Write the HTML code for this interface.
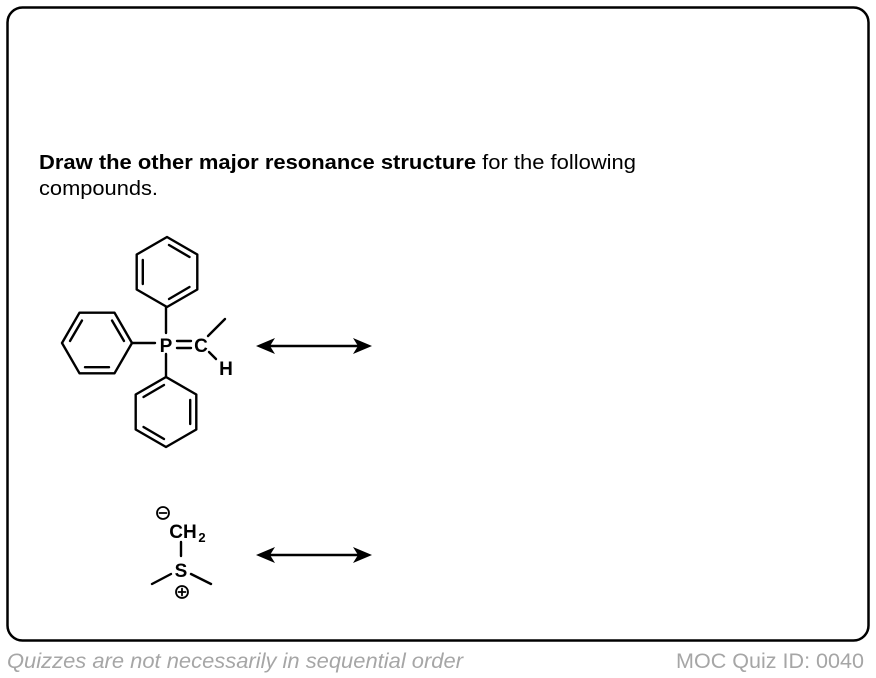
<!DOCTYPE html>
<html><head><style>
body{margin:0;width:876px;height:678px;background:#fff;overflow:hidden;font-family:"Liberation Sans",Arial,sans-serif;}
</style></head><body>
<svg width="876" height="678" viewBox="0 0 876 678" xmlns="http://www.w3.org/2000/svg" style="position:absolute;left:0;top:0">
<rect x="7.5" y="7.5" width="861" height="633" rx="15" fill="none" stroke="#000" stroke-width="2.5"/>
<text x="39" y="169" font-size="20" textLength="597" lengthAdjust="spacingAndGlyphs" font-family="Liberation Sans, Arial, sans-serif"><tspan font-weight="bold">Draw the other major resonance structure</tspan> for the following</text>
<text x="39" y="195" font-size="20" textLength="119" lengthAdjust="spacingAndGlyphs" font-family="Liberation Sans, Arial, sans-serif">compounds.</text>
<text x="7" y="668" font-size="21" font-style="italic" fill="#a6a6a6" textLength="456" lengthAdjust="spacingAndGlyphs" font-family="Liberation Sans, Arial, sans-serif">Quizzes are not necessarily in sequential order</text>
<text x="676" y="668" font-size="21" fill="#a6a6a6" textLength="188" lengthAdjust="spacingAndGlyphs" font-family="Liberation Sans, Arial, sans-serif">MOC Quiz ID: 0040</text>
<g stroke="#000" stroke-width="2.4" fill="none" stroke-linecap="round" stroke-linejoin="round">
<polygon points="167,237 197.3,254.5 197.3,289.5 167,307 136.7,289.5 136.7,254.5"/>
<line x1="142.8" y1="260" x2="142.8" y2="284"/>
<line x1="169" y1="245" x2="189.5" y2="257"/>
<line x1="189.5" y1="287" x2="169" y2="299"/>
<polygon points="62,343 79.5,312.7 114.5,312.7 132,343 114.5,373.3 79.5,373.3"/>
<line x1="112" y1="320.5" x2="124" y2="341"/>
<line x1="85" y1="367.2" x2="109" y2="367.2"/>
<line x1="70" y1="341" x2="82" y2="320.5"/>
<polygon points="166,377 196.3,394.5 196.3,429.5 166,447 135.7,429.5 135.7,394.5"/>
<line x1="190.2" y1="400" x2="190.2" y2="424"/>
<line x1="164" y1="439" x2="143.5" y2="427"/>
<line x1="143.5" y1="397" x2="164" y2="385"/>
<line x1="166" y1="307" x2="166" y2="333"/>
<line x1="132" y1="343" x2="155" y2="343"/>
<line x1="166" y1="354" x2="166" y2="377"/>
<line x1="177" y1="341" x2="191" y2="341"/>
<line x1="177" y1="348" x2="191" y2="348"/>
<line x1="208" y1="336" x2="225" y2="319"/>
<line x1="209" y1="352" x2="216" y2="359"/>
<line x1="268" y1="346" x2="360" y2="346"/>
<line x1="181" y1="542" x2="181" y2="556"/>
<line x1="152" y1="584" x2="171" y2="574"/>
<line x1="191" y1="574" x2="211" y2="584"/>
<circle cx="163" cy="513" r="6" stroke-width="1.8"/>
<line x1="159.5" y1="513" x2="166.5" y2="513" stroke-width="1.8"/>
<circle cx="182" cy="592" r="6" stroke-width="1.8"/>
<line x1="178.5" y1="592" x2="185.5" y2="592" stroke-width="1.8"/>
<line x1="182" y1="588.5" x2="182" y2="595.5" stroke-width="1.8"/>
<line x1="268" y1="555" x2="360" y2="555"/>
</g>
<g fill="#000">
<polygon points="256,346 275,338 270,346 275,354"/>
<polygon points="372,346 353,338 358,346 353,354"/>
<polygon points="256,555 275,547 270,555 275,563"/>
<polygon points="372,555 353,547 358,555 353,563"/>
</g>
<g font-family="Liberation Sans, Arial, sans-serif" font-weight="bold" font-size="19" text-anchor="middle">
<text x="166" y="352">P</text>
<text x="201" y="352">C</text>
<text x="226" y="375">H</text>
<text x="183" y="538">CH</text>
<text x="202" y="542" font-size="13">2</text>
<text x="181" y="577">S</text>
</g>
</svg>
</body></html>
